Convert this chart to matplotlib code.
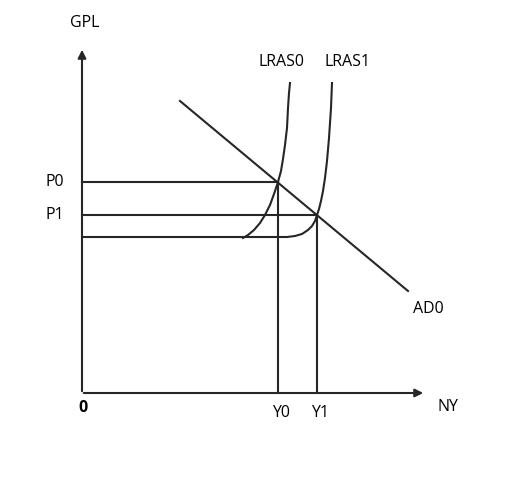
import numpy as np
import matplotlib.pyplot as plt

# equilibrium levels (units ~ pixels from origin)
p_levels = [211, 178]          # P0, P1
p_labels = ["P0", "P1"]
y_levels = [196, 235]          # Y0, Y1
y_labels = ["Y0", "Y1"]

# aggregate demand line (two end points)
ad_x = [98, 326]
ad_y = [292, 102]

# hand drawn supply curves
lras0_x = [161, 166, 172, 178, 183, 188, 192, 196, 199, 201, 203, 205, 206, 207, 208]
lras0_y = [155, 158, 163, 170, 178, 188, 199, 211, 222, 234, 248, 265, 285, 300, 310]
lras1_x = [0, 205, 213, 220, 226, 230, 233, 235, 237, 239, 241, 243, 245, 247, 249, 250]
lras1_y = [156, 156, 157, 159, 163, 167, 172, 178, 184, 192, 202, 215, 232, 255, 285, 310]

ink = "#262626"
lw = 1.5

fig = plt.figure(figsize=(5.23, 4.83), dpi=100)
ax = fig.add_axes([0, 0, 1, 1])
ax.set_xlim(-82, 441)
ax.set_ylim(-90, 393)
ax.axis("off")

# axes with arrows
ax.annotate("", xy=(0, 346), xytext=(0, -1),
            arrowprops=dict(arrowstyle="-|>", color=ink, lw=lw, mutation_scale=12))
ax.annotate("", xy=(344, 0), xytext=(-1, 0),
            arrowprops=dict(arrowstyle="-|>", color=ink, lw=lw, mutation_scale=12))

# guide lines
for p, y in zip(p_levels, y_levels):
    ax.plot([0, y], [p, p], color=ink, lw=lw)
    ax.plot([y, y], [0, p], color=ink, lw=lw)

# curves
ax.plot(ad_x, ad_y, color=ink, lw=lw)
ax.plot(lras0_x, lras0_y, color=ink, lw=lw)
ax.plot(lras1_x, lras1_y, color=ink, lw=lw)

fs = 11.5
font = "Open Sans"
ax.text(3, 370, "GPL", fontsize=fs, family=font, ha="center", va="center")
ax.text(199, 331, "LRAS0", fontsize=fs, family=font, ha="center", va="center")
ax.text(266, 331, "LRAS1", fontsize=fs, family=font, ha="center", va="center")
for p, lab in zip(p_levels, p_labels):
    ax.text(-27, p, lab, fontsize=fs, family=font, ha="center", va="center")
for y, lab in zip(y_levels, y_labels):
    ax.text(y + 3, -20, lab, fontsize=fs, family=font, ha="center", va="center")
ax.text(346, 84, "AD0", fontsize=fs, family=font, ha="center", va="center")
ax.text(1, -15, "0", fontsize=fs, family=font, fontweight="bold", ha="center", va="center")
ax.text(366, -14, "NY", fontsize=fs, family=font, ha="center", va="center")

fig.savefig("out.png", dpi=100)
